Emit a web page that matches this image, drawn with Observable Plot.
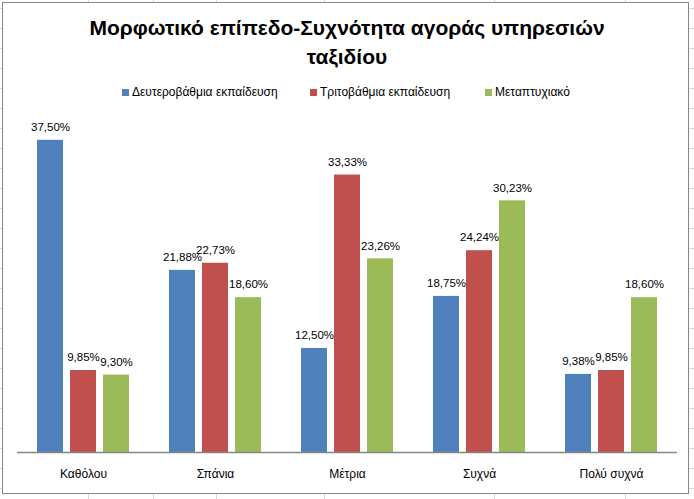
<!DOCTYPE html>
<html>
<head>
<meta charset="utf-8">
<script src="https://cdn.jsdelivr.net/npm/d3@7"></script>
<script src="https://cdn.jsdelivr.net/npm/@observablehq/plot@0.6"></script>
<style>
  html, body { margin: 0; padding: 0; background: #fff; }
  body { width: 694px; height: 499px; position: relative; overflow: hidden; font-family: "Liberation Sans", Arial, sans-serif; }
  .gridbg { position: absolute; left: 0; top: 0; width: 694px; height: 499px;
    background-image: repeating-linear-gradient(to bottom, transparent 0, transparent 8px, #d4d8e0 8px, #d4d8e0 9px, transparent 9px, transparent 20px); }
  .vcol { position: absolute; top: 0; width: 1px; height: 499px; background: #d4d8e0; }
  .chart { position: absolute; left: 2px; top: 2px; width: 687px; height: 492px; border: 1px solid #878787; background: #fff; box-sizing: border-box; }
  .title { position: absolute; left: 0; top: 13px; width: 694px; text-align: center; font-weight: bold; font-size: 21px; line-height: 29px; color: #000; }
  .legend { position: absolute; top: 85px; left: 0; width: 694px; font-size: 12px; color: #000; }
  .legend span.item { position: absolute; white-space: nowrap; }
  .legend i { display: inline-block; width: 7px; height: 7px; margin-right: 3px; vertical-align: 0px; }
  #plot { position: absolute; left: 0; top: 100px; }
</style>
</head>
<body>
<div class="gridbg"></div>
<div class="vcol" style="left:88px"></div>
<div class="vcol" style="left:153px"></div>
<div class="vcol" style="left:216px"></div>
<div class="vcol" style="left:324px"></div>
<div class="vcol" style="left:494px"></div>
<div class="vcol" style="left:625px"></div>
<div class="chart"></div>
<div class="title">Μορφωτικό επίπεδο-Συχνότητα αγοράς υπηρεσιών<br>ταξιδίου</div>
<div class="legend" id="legend"></div>
<div id="plot"></div>
<script>
const categories = ["Καθόλου", "Σπάνια", "Μέτρια", "Συχνά", "Πολύ συχνά"];
const seriesNames = ["Δευτεροβάθμια εκπαίδευση", "Τριτοβάθμια εκπαίδευση", "Μεταπτυχιακό"];
const seriesColors = ["#4F81BD", "#C0504D", "#9BBB59"];
const secondary = [37.50, 21.88, 12.50, 18.75, 9.38];
const tertiary = [9.85, 22.73, 33.33, 24.24, 9.85];
const postgrad = [9.30, 18.60, 23.26, 30.23, 18.60];
const legendX = [122, 310, 485];

const seriesValues = [secondary, tertiary, postgrad];
const data = [];
categories.forEach((c, i) => {
  seriesNames.forEach((s, j) => data.push({category: c, series: s, value: seriesValues[j][i]}));
});

const fmt = v => v.toFixed(2).replace(".", ",") + "%";

const chart = Plot.plot({
  width: 694,
  height: 390,
  marginLeft: 17,
  marginRight: 17,
  marginTop: 19,
  marginBottom: 38,
  style: {fontFamily: "'Liberation Sans', Arial, sans-serif", fontSize: "12px", color: "#000", background: "transparent"},
  fx: {domain: categories, padding: 0, label: null, axis: "bottom", tickSize: 0, tickPadding: 17},
  x: {domain: seriesNames, paddingInner: 0.212, paddingOuter: 0.606, axis: null},
  y: {domain: [0, 40], axis: null},
  color: {domain: seriesNames, range: seriesColors},
  marks: [
    Plot.barY(data, {fx: "category", x: "series", y: "value", fill: "series"}),
    Plot.text(data, {fx: "category", x: "series", y: "value", text: d => fmt(d.value), dy: -13, fill: "#000", fontSize: 11.5}),
    Plot.ruleY([0], {stroke: "#868686", strokeWidth: 1.3})
  ]
});
document.getElementById("plot").appendChild(chart);

const legend = document.getElementById("legend");
seriesNames.forEach((s, j) => {
  const item = document.createElement("span");
  item.className = "item";
  item.style.left = legendX[j] + "px";
  const sw = document.createElement("i");
  sw.style.background = seriesColors[j];
  item.appendChild(sw);
  item.appendChild(document.createTextNode(s));
  legend.appendChild(item);
});
</script>
</body>
</html>
